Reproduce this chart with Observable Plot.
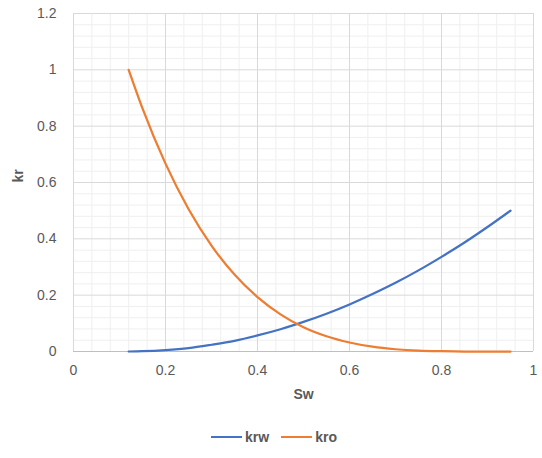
<!DOCTYPE html>
<html>
<head>
<meta charset="utf-8">
<script src="https://cdn.jsdelivr.net/npm/d3@7"></script>
<script src="https://cdn.jsdelivr.net/npm/@observablehq/plot@0.6"></script>
<style>
  html, body { margin: 0; padding: 0; background: #fff; }
  body { width: 542px; height: 458px; overflow: hidden; font-family: "Liberation Sans", Arial, sans-serif; }
  #legend { display: flex; justify-content: center; align-items: center; gap: 12px; margin-top: 14px; padding-left: 6px; font-size: 14px; font-weight: bold; color: #595959; }
  .item { display: flex; align-items: center; gap: 3px; }
  .swatch { width: 31px; height: 2.5px; display: inline-block; }
</style>
</head>
<body>
<div id="chart"></div>
<div id="legend"></div>
<script>
// Data
const sw  = [0.12, 0.15, 0.20, 0.25, 0.30, 0.35, 0.40, 0.45, 0.50, 0.55, 0.60, 0.65, 0.70, 0.75, 0.80, 0.85, 0.90, 0.95];
const krw = [0.000, 0.001, 0.005, 0.012, 0.024, 0.038, 0.057, 0.079, 0.105, 0.134, 0.167, 0.204, 0.244, 0.288, 0.336, 0.387, 0.442, 0.500];
const kro = [1.000, 0.863, 0.667, 0.506, 0.376, 0.273, 0.193, 0.132, 0.086, 0.054, 0.032, 0.017, 0.008, 0.003, 0.001, 0.000, 0.000, 0.000];
const seriesNames = ["krw", "kro"];
const seriesColors = ["#4472C4", "#ED7D31"];
const xTicks = [0, 0.2, 0.4, 0.6, 0.8, 1];
const yTicks = [0, 0.2, 0.4, 0.6, 0.8, 1, 1.2];
const xMinor = [0.04, 0.08, 0.12, 0.16, 0.24, 0.28, 0.32, 0.36, 0.44, 0.48, 0.52, 0.56, 0.64, 0.68, 0.72, 0.76, 0.84, 0.88, 0.92, 0.96];
const yMinor = [0.04, 0.08, 0.12, 0.16, 0.24, 0.28, 0.32, 0.36, 0.44, 0.48, 0.52, 0.56, 0.64, 0.68, 0.72, 0.76, 0.84, 0.88, 0.92, 0.96, 1.04, 1.08, 1.12, 1.16];
const xTitle = "Sw";
const yTitle = "kr";

const rows = [];
sw.forEach((s, i) => {
  rows.push({sw: s, kr: krw[i], series: "krw"});
  rows.push({sw: s, kr: kro[i], series: "kro"});
});

const fmt = d => String(d);

const chart = Plot.plot({
  width: 542,
  height: 415,
  marginLeft: 73,
  marginRight: 9,
  marginTop: 13,
  marginBottom: 64,
  style: {fontFamily: "Liberation Sans, Arial, sans-serif", fontSize: "14px", color: "#595959", background: "#fff"},
  x: {domain: [0, 1], ticks: xTicks},
  y: {domain: [0, 1.2], ticks: yTicks},
  color: {domain: seriesNames, range: seriesColors},
  marks: [
    Plot.ruleX(xMinor, {stroke: "#efefef", strokeWidth: 1}),
    Plot.ruleY(yMinor, {stroke: "#efefef", strokeWidth: 1}),
    Plot.ruleX(xTicks, {stroke: "#d9d9d9", strokeWidth: 1}),
    Plot.ruleY(yTicks, {stroke: "#d9d9d9", strokeWidth: 1}),
    Plot.ruleY([0], {stroke: "#bfbfbf", strokeWidth: 1.2}),
    Plot.axisX(xTicks, {tickSize: 0, tickPadding: 14, tickFormat: fmt, label: null, fill: "#595959", fontSize: 14}),
    Plot.axisY(yTicks, {tickSize: 0, tickPadding: 17, tickFormat: fmt, label: null, fill: "#595959", fontSize: 14}),
    Plot.text([xTitle], {frameAnchor: "bottom", dy: 47, text: d => d, fontWeight: "bold", fill: "#595959", fontSize: 14}),
    Plot.text([yTitle], {frameAnchor: "left", dx: -55, rotate: -90, text: d => d, fontWeight: "bold", fill: "#595959", fontSize: 14}),
    Plot.line(rows, {x: "sw", y: "kr", stroke: "series", z: "series", strokeWidth: 2.25, curve: "monotone-x"})
  ]
});
document.getElementById("chart").appendChild(chart);

const legend = document.getElementById("legend");
seriesNames.forEach((n, i) => {
  const item = document.createElement("div");
  item.className = "item";
  const sw_ = document.createElement("span");
  sw_.className = "swatch";
  sw_.style.background = seriesColors[i];
  const t = document.createElement("span");
  t.textContent = n;
  item.appendChild(sw_);
  item.appendChild(t);
  legend.appendChild(item);
});
</script>
</body>
</html>
